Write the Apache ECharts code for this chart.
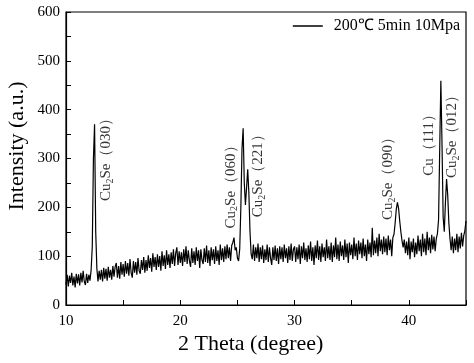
<!DOCTYPE html>
<html>
<head>
<meta charset="utf-8">
<script src="https://cdn.jsdelivr.net/npm/echarts@6/dist/echarts.min.js"></script>
<style>html,body{margin:0;padding:0;background:#fff}#c{width:474px;height:363px}</style>
</head>
<body>
<div id="c"></div>
<script>
// 2 theta sampling: each row is one degree (N.0 ... N.9), step 0.1
const startAngle = 10;
const angleStep = 0.1;
const intensityRows = [
  [42,62,38,60,45,66,40,58,36,64],
  [44,63,40,66,46,70,48,41,64,45],
  [62,50,72,120,300,370,150,75,48,70],
  [52,72,48,76,54,74,50,78,56,72],
  [52,80,58,78,86,56,80,54,88,62],
  [84,58,90,64,86,60,94,66,56,90],
  [66,88,62,96,70,64,92,72,98,66],
  [92,70,102,76,96,68,106,78,98,72],
  [104,78,100,70,110,80,102,74,112,82],
  [104,76,108,84,114,80,106,118,82,110],
  [86,108,80,114,88,120,84,112,90,78],
  [116,86,110,82,118,90,112,76,114,92],
  [84,116,88,122,86,112,80,118,92,114],
  [84,120,90,112,82,124,92,116,88,120],
  [94,124,96,118,90,122,128,138,112,118],
  [96,90,115,200,320,362,250,205,240,278],
  [230,150,104,94,124,90,118,96,126,88],
  [118,94,122,86,114,92,124,88,118,96],
  [82,118,92,122,90,116,84,120,94,118],
  [88,124,96,116,86,120,92,126,90,114],
  [120,88,118,94,124,84,120,96,128,92],
  [116,88,122,94,130,90,118,82,122,96],
  [132,92,120,88,126,98,118,90,134,96],
  [120,92,128,88,122,98,138,94,124,90],
  [130,100,122,92,134,98,126,86,128,102],
  [124,94,138,100,126,92,132,104,128,96],
  [136,100,124,90,134,104,128,98,158,102],
  [132,106,138,100,146,110,134,104,140,108],
  [136,102,142,112,134,100,138,145,168,196],
  [210,198,172,150,132,118,134,106,130,102],
  [138,94,130,108,136,98,128,104,142,110],
  [134,100,146,108,136,102,150,112,138,106],
  [144,114,140,110,136,146,175,320,459,330],
  [180,150,210,258,225,168,136,112,140,106],
  [136,112,146,108,140,116,148,120,142,152],
  [172]
];

// peak annotations (label centre in data coordinates)
const annoX = [13.5, 24.4, 26.8, 38.2, 41.8, 43.8];
const annoY = [305, 249, 272, 266, 335, 352];
const annoText = [
  '{a|Cu}{s|2}{a|Se（030）}',
  '{a|Cu}{s|2}{a|Se（060）}',
  '{a|Cu}{s|2}{a|Se（221）}',
  '{a|Cu}{s|2}{a|Se（090）}',
  '{a|Cu（111）}',
  '{a|Cu}{s|2}{a|Se（012）}'
];

const seriesName = '200℃ 5min 10Mpa';
const xTicks = [10, 20, 30, 40];
const yTicks = [0, 100, 200, 300, 400, 500, 600];

const lineData = [];
intensityRows.forEach((row, r) => {
  row.forEach((v, c) => {
    lineData.push([+(startAngle + r + c * angleStep).toFixed(2), v]);
  });
});
const annoData = annoX.map((x, i) => ({ value: [x, annoY[i]], label: { formatter: annoText[i] } }));

const serif = '"Liberation Serif", "Times New Roman", serif';
const chart = echarts.init(document.getElementById('c'));
chart.setOption({
  animation: false,
  backgroundColor: '#fff',
  grid: { left: 66, right: 8, top: 12, bottom: 58, show: true, borderColor: '#000', borderWidth: 1.2 },
  legend: {
    data: [{ name: seriesName, icon: 'rect' }],
    right: 9, top: 13, itemWidth: 30, itemHeight: 1.5, itemGap: 10,
    textStyle: { fontFamily: serif, fontSize: 16, color: '#000', padding: [0, 0, 0, 6] }
  },
  xAxis: {
    type: 'value', min: 10, max: 45, interval: 5,
    axisLine: { lineStyle: { color: '#000', width: 1.2 } },
    axisTick: { inside: true, length: 5, lineStyle: { color: '#000' } },
    splitLine: { show: false },
    axisLabel: {
      color: '#000', fontFamily: serif, fontSize: 15, margin: 9,
      formatter: v => (xTicks.indexOf(v) >= 0 ? String(v) : '')
    }
  },
  yAxis: {
    type: 'value', min: 0, max: 600, interval: 50,
    axisLine: { show: true, lineStyle: { color: '#000', width: 1.2 } },
    axisTick: { show: true, inside: true, length: 5, lineStyle: { color: '#000' } },
    splitLine: { show: false },
    axisLabel: {
      color: '#000', fontFamily: serif, fontSize: 15, margin: 6,
      formatter: v => (yTicks.indexOf(v) >= 0 ? String(v) : '')
    }
  },
  graphic: [
    { type: 'text', left: 178, top: 333, style: { text: '2 Theta (degree)', font: '22px ' + serif, fill: '#000' } },
    { type: 'text', x: 6, y: 146, rotation: Math.PI / 2, style: { text: 'Intensity (a.u.)', font: '22px ' + serif, fill: '#000', align: 'center', verticalAlign: 'top' } }
  ],
  series: [
    {
      name: seriesName, type: 'line', data: lineData, showSymbol: false, symbol: 'none',
      lineStyle: { color: '#000', width: 1.2 }, itemStyle: { color: '#000' }
    },
    {
      name: 'anno', type: 'scatter', data: annoData, symbolSize: 0, silent: true,
      label: {
        show: true, position: 'inside', rotate: 90, color: '#000',
        rich: {
          a: { fontFamily: serif, fontSize: 15, color: '#000', lineHeight: 18 },
          s: { fontFamily: serif, fontSize: 10, color: '#000', lineHeight: 18, verticalAlign: 'bottom', padding: [8, 0, 0, 0] }
        }
      }
    }
  ]
});
</script>
</body>
</html>
